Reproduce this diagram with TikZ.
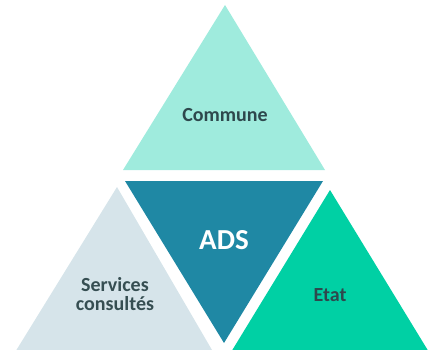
\documentclass[tikz,border=0pt]{standalone}
\usepackage{fontspec}
\setmainfont{Carlito}
\definecolor{communefill}{HTML}{9FEBDD}
\definecolor{adsfill}{HTML}{1F88A4}
\definecolor{servfill}{HTML}{D6E4EA}
\definecolor{etatfill}{HTML}{00D0A4}
\definecolor{labeltext}{HTML}{2E484D}
\tikzset{
  lbl/.style={font=\bfseries\fontsize{20}{19}\selectfont, text=labeltext, align=center, inner sep=0pt},
}
\begin{document}
\begin{tikzpicture}[x=1pt,y=-1pt]
  \useasboundingbox (0,0) rectangle (428,350);
  \clip (0,0) rectangle (428,350);

  %% triangles
  % top
  \fill[communefill] (123,170) -- (225,5) -- (325,170) -- cycle;
  % centre, upside down
  \fill[adsfill] (125,181) -- (323,181) -- (224,343) -- cycle;
  % left
  \fill[servfill] (117,187) -- (9,362) -- (219,362) -- cycle;
  % right
  \fill[etatfill] (330,190) -- (225,362) -- (435,362) -- cycle;

  %% labels
  \node[lbl] (commune) at (225,115) {Commune};
  \node[lbl, text=white, font=\bfseries\fontsize{29}{30}\selectfont] (ads) at (224,240) {ADS};
  \node[lbl, text=labeltext!90!gray] (services) at (115,294) {Services\\consultés};
  \node[lbl] (etat) at (330,295) {Etat};
\end{tikzpicture}
\end{document}
